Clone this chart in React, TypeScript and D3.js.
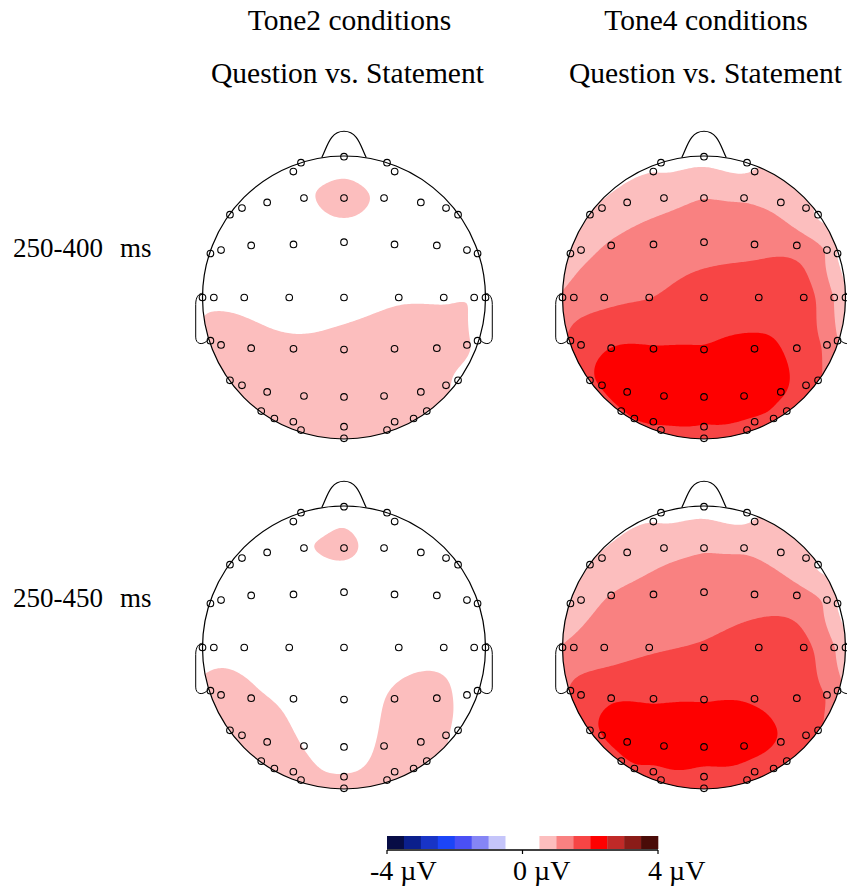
import React, { useMemo } from 'react';
import * as d3 from 'd3';

// ---------- DATA ----------
const columnTitles = ['Tone2 conditions', 'Tone4 conditions'];
const columnSubtitle = 'Question vs. Statement';
const rowLabels = ['250-400', '250-450'];
const rowUnit = 'ms';

// electrode positions (unit head radius, +x right, +y posterior)
const elecX = [
  0, -0.304, 0.304, -0.358, 0.358,
  0, -0.283, 0.283, -0.543, 0.543, -0.721, 0.721, -0.806, 0.806,
  0, -0.357, 0.357, -0.656, 0.656, -0.869, 0.869, -0.944, 0.944,
  0, -0.387, 0.387, -0.705, 0.705, -0.92, 0.92, -1.0, 1.0,
  0, -0.357, 0.357, -0.656, 0.656, -0.869, 0.869, -0.944, 0.944,
  0, -0.283, 0.283, -0.543, 0.543, -0.721, 0.721, -0.806, 0.806,
  -0.585, 0.585, -0.492, 0.492, -0.358, 0.358, -0.304, 0.304, 0, 0,
];
const elecY = [
  -0.995, -0.953, -0.953, -0.89, -0.89,
  -0.703, -0.703, -0.703, -0.672, -0.672, -0.632, -0.632, -0.585, -0.585,
  -0.391, -0.375, -0.375, -0.368, -0.368, -0.335, -0.335, -0.311, -0.311,
  0, 0, 0, 0, 0, 0, 0, 0, 0,
  0.368, 0.363, 0.363, 0.358, 0.358, 0.335, 0.335, 0.305, 0.305,
  0.703, 0.696, 0.696, 0.667, 0.667, 0.621, 0.621, 0.585, 0.585,
  0.803, 0.803, 0.855, 0.855, 0.878, 0.878, 0.937, 0.937, 0.913, 0.995,
];

// amplitude (µV) at each electrode, Question minus Statement
const tone2_250_400 = [
  0.33, 0.25, 0.25, 0.38, 0.36,
  0.6, 0.45, 0.43, 0.2, 0.2, 0.15, 0.15, 0.15, 0.15,
  0.3, 0.2, 0.2, 0.15, 0.15, 0.15, 0.15, 0.15, 0.15,
  0.3, 0.2, 0.45, 0.35, 0.45, 0.4, 0.45, 0.4, 0.3,
  0.7, 0.62, 0.75, 0.7, 0.75, 0.7, 0.55, 0.65, 0.35,
  0.75, 0.75, 0.75, 0.75, 0.7, 0.75, 0.55, 0.7, 0.4,
  0.75, 0.55, 0.75, 0.6, 0.75, 0.65, 0.7, 0.6, 0.7, 0.65,
];
const tone4_250_400 = [
  0.4, 0.35, 0.35, 0.5, 0.55,
  1.0, 0.85, 0.95, 0.75, 0.85, 0.62, 0.6, 0.6, 0.45,
  1.3, 1.2, 1.35, 1.05, 1.3, 0.85, 0.9, 0.75, 0.45,
  1.75, 1.5, 1.8, 1.38, 1.7, 1.2, 0.95, 1.1, 0.52,
  2.05, 2.05, 2.1, 2.02, 1.85, 1.7, 1.35, 1.6, 1.0,
  2.4, 2.4, 2.3, 2.3, 2.05, 2.05, 1.75, 1.9, 1.55,
  1.95, 1.75, 2.0, 1.85, 2.05, 1.9, 1.85, 1.8, 1.95, 1.8,
];
const tone2_250_450 = [
  0.42, 0.22, 0.2, 0.38, 0.32,
  0.56, 0.47, 0.36, 0.22, 0.2, 0.15, 0.15, 0.15, 0.15,
  0.2, 0.15, 0.15, 0.15, 0.15, 0.15, 0.15, 0.2, 0.2,
  0.1, 0.2, 0.25, 0.3, 0.35, 0.35, 0.35, 0.3, 0.3,
  0.15, 0.38, 0.6, 0.58, 0.65, 0.7, 0.35, 0.65, 0.3,
  0.25, 0.48, 0.6, 0.7, 0.7, 0.75, 0.52, 0.7, 0.42,
  0.7, 0.6, 0.7, 0.65, 0.65, 0.65, 0.6, 0.6, 0.53, 0.58,
];
const tone4_250_450 = [
  0.4, 0.35, 0.35, 0.5, 0.55,
  0.95, 0.85, 0.93, 0.72, 0.82, 0.6, 0.62, 0.58, 0.45,
  1.25, 1.15, 1.3, 1.02, 1.2, 0.82, 0.85, 0.72, 0.45,
  1.55, 1.45, 1.7, 1.25, 1.6, 1.12, 1.0, 1.05, 0.55,
  1.98, 1.95, 1.95, 1.95, 1.72, 1.65, 1.45, 1.55, 1.15,
  2.3, 2.3, 2.2, 2.15, 1.95, 2.0, 1.75, 1.85, 1.55,
  1.9, 1.75, 1.9, 1.75, 1.85, 1.75, 1.75, 1.7, 1.8, 1.7,
];

// colour scale: 16 steps of 0.5 µV from -4 to 4
const colorSteps = [
  '#070c45', '#0b1f8c', '#1834c6', '#1c45f8', '#4a50f5', '#8585f5', '#c5c5fa',
  '#ffffff', '#ffffff',
  '#fcbebe', '#f98181', '#f74545', '#fe0000', '#c02a28', '#8a1c18', '#4a0c08',
];
const colorDomain = [-4, 4];
const colorTickValues = [-4, 0, 4];
const colorTickLabels = ['-4 µV', '0 µV', '4 µV'];

// ---------- LAYOUT ----------
const W = 847;
const H = 890;
const R = 141.5;
const colCx = [344, 704];
const rowCy = [297.5, 647.5];
const FONT = "'Liberation Serif', 'Times New Roman', serif";

const maps = [
  [tone2_250_400, tone4_250_400],
  [tone2_250_450, tone4_250_450],
];

function green(r: number) {
  return r === 0 ? 0 : r * r * (Math.log(r) - 1);
}

function solve(A: number[][], b: number[]): number[] {
  const n = b.length;
  const M = A.map((row, i) => [...row, b[i]]);
  for (let c = 0; c < n; c++) {
    let p = c;
    for (let r = c + 1; r < n; r++) if (Math.abs(M[r][c]) > Math.abs(M[p][c])) p = r;
    [M[c], M[p]] = [M[p], M[c]];
    for (let r = c + 1; r < n; r++) {
      const f = M[r][c] / M[c][c];
      for (let k = c; k <= n; k++) M[r][k] -= f * M[c][k];
    }
  }
  const x = new Array(n).fill(0);
  for (let r = n - 1; r >= 0; r--) {
    let s = M[r][n];
    for (let k = r + 1; k < n; k++) s -= M[r][k] * x[k];
    x[r] = s / M[r][r];
  }
  return x;
}

const N = 181;
const EXT = 1.06;

function useField(vals: number[]) {
  return useMemo(() => {
    const n = elecX.length;
    const A: number[][] = [];
    for (let i = 0; i < n; i++) {
      const row: number[] = [];
      for (let j = 0; j < n; j++) row.push(green(Math.hypot(elecX[i] - elecX[j], elecY[i] - elecY[j])));
      A.push(row);
    }
    const w = solve(A, vals);
    const grid = new Array(N * N);
    for (let j = 0; j < N; j++) {
      const y = -EXT + (2 * EXT * j) / (N - 1);
      for (let i = 0; i < N; i++) {
        const x = -EXT + (2 * EXT * i) / (N - 1);
        let s = 0;
        for (let k = 0; k < n; k++) s += w[k] * green(Math.hypot(x - elecX[k], y - elecY[k]));
        grid[i + j * N] = s;
      }
    }
    return grid as number[];
  }, [vals]);
}

const stepScale = d3.scaleQuantize<string>().domain(colorDomain).range(colorSteps);
const step = (colorDomain[1] - colorDomain[0]) / colorSteps.length;
const posThresholds = d3.range(0.5, 4, step);

function Head({ cx, cy, vals, id }: { cx: number; cy: number; vals: number[]; id: string }) {
  const grid = useField(vals);
  const k = (2 * EXT * R) / (N - 1);
  const path = d3.geoPath(d3.geoIdentity().scale(k).translate([cx - R * EXT, cy - R * EXT]) as any);
  const pos = d3.contours().size([N, N]).thresholds(posThresholds)(grid);
  const neg = d3.contours().size([N, N]).thresholds(posThresholds)(grid.map((v) => -v));
  const sx = (x: number) => cx + R * x;
  const sy = (y: number) => cy + R * y;
  const nose = `M${sx(-0.157)},${sy(-0.99)} C${sx(-0.12)},${sy(-1.06)} ${sx(-0.1)},${sy(-1.175)} ${sx(0)},${sy(-1.175)} C${sx(0.1)},${sy(-1.175)} ${sx(0.12)},${sy(-1.06)} ${sx(0.157)},${sy(-0.99)}`;
  const ear = (s: number) =>
    `M${sx(s * 0.995)},${sy(-0.03)} C${sx(s * 1.03)},${sy(-0.03)} ${sx(s * 1.048)},${sy(0)} ${sx(s * 1.048)},${sy(0.05)} L${sx(s * 1.048)},${sy(0.28)} C${sx(s * 1.048)},${sy(0.33)} ${sx(s * 1.0)},${sy(0.345)} ${sx(s * 0.956)},${sy(0.295)}`;
  return (
    <g>
      <defs>
        <clipPath id={id}>
          <circle cx={cx} cy={cy} r={R} />
        </clipPath>
      </defs>
      <g clipPath={`url(#${id})`}>
        <circle cx={cx} cy={cy} r={R} fill="#ffffff" />
        {pos.map((c, i) => (
          <path key={'p' + i} d={path(c as any) || ''} fill={stepScale(c.value + step / 2)} />
        ))}
        {neg.map((c, i) => (
          <path key={'n' + i} d={path(c as any) || ''} fill={stepScale(-c.value - step / 2)} />
        ))}
      </g>
      <circle cx={cx} cy={cy} r={R} fill="none" stroke="#000" strokeWidth={1.2} />
      <path d={nose} fill="none" stroke="#000" strokeWidth={1.2} />
      <path d={ear(-1)} fill="none" stroke="#000" strokeWidth={1} />
      <path d={ear(1)} fill="none" stroke="#000" strokeWidth={1} />
      {elecX.map((x, i) => (
        <circle key={i} cx={sx(x)} cy={sy(elecY[i])} r={3.3} fill="none" stroke="#000" strokeWidth={1.1} />
      ))}
    </g>
  );
}

function ColorBar() {
  const x0 = 387;
  const x1 = 658;
  const y0 = 836;
  const h = 13;
  const xs = d3.scaleLinear().domain(colorDomain).range([x0, x1]);
  const labelOffsets = [-17, -9.5, -10];
  return (
    <g>
      {colorSteps.map((c, i) => {
        const a = colorDomain[0] + i * step;
        return <rect key={i} x={xs(a)} y={y0} width={xs(a + step) - xs(a) + 0.3} height={h} fill={c} />;
      })}
      <line x1={x0} x2={x1} y1={y0 + h + 1} y2={y0 + h + 1} stroke="#000" strokeWidth={1.5} />
      {colorTickValues.map((t, i) => (
        <g key={t}>
          <line x1={xs(t)} x2={xs(t)} y1={y0 + h + 1} y2={y0 + h + 5} stroke="#000" strokeWidth={1.2} />
          <text x={xs(t) + labelOffsets[i]} y={880} fontFamily={FONT} fontSize={28} fill="#000">
            {colorTickLabels[i]}
          </text>
        </g>
      ))}
    </g>
  );
}

export default function App() {
  const titleX = [349.5, 706];
  const subX = [347.5, 705.5];
  return (
    <svg width={W} height={H} style={{ position: 'absolute', left: 0, top: 0, background: '#fff' }}>
      <rect x={0} y={0} width={W} height={H} fill="#fff" />
      {columnTitles.map((t, i) => (
        <g key={t}>
          <text x={titleX[i]} y={30} textAnchor="middle" fontFamily={FONT} fontSize={29.5}>
            {t}
          </text>
          <text x={subX[i]} y={83} textAnchor="middle" fontFamily={FONT} fontSize={29.5}>
            {columnSubtitle}
          </text>
        </g>
      ))}
      {rowLabels.map((t, r) => (
        <text key={t} x={13} y={rowCy[r] - 41} fontFamily={FONT} fontSize={27}>
          {t}
          <tspan x={120}>{rowUnit}</tspan>
        </text>
      ))}
      {maps.map((row, r) =>
        row.map((vals, c) => <Head key={r + '-' + c} cx={colCx[c]} cy={rowCy[r]} vals={vals} id={`clip${r}${c}`} />)
      )}
      <ColorBar />
    </svg>
  );
}
